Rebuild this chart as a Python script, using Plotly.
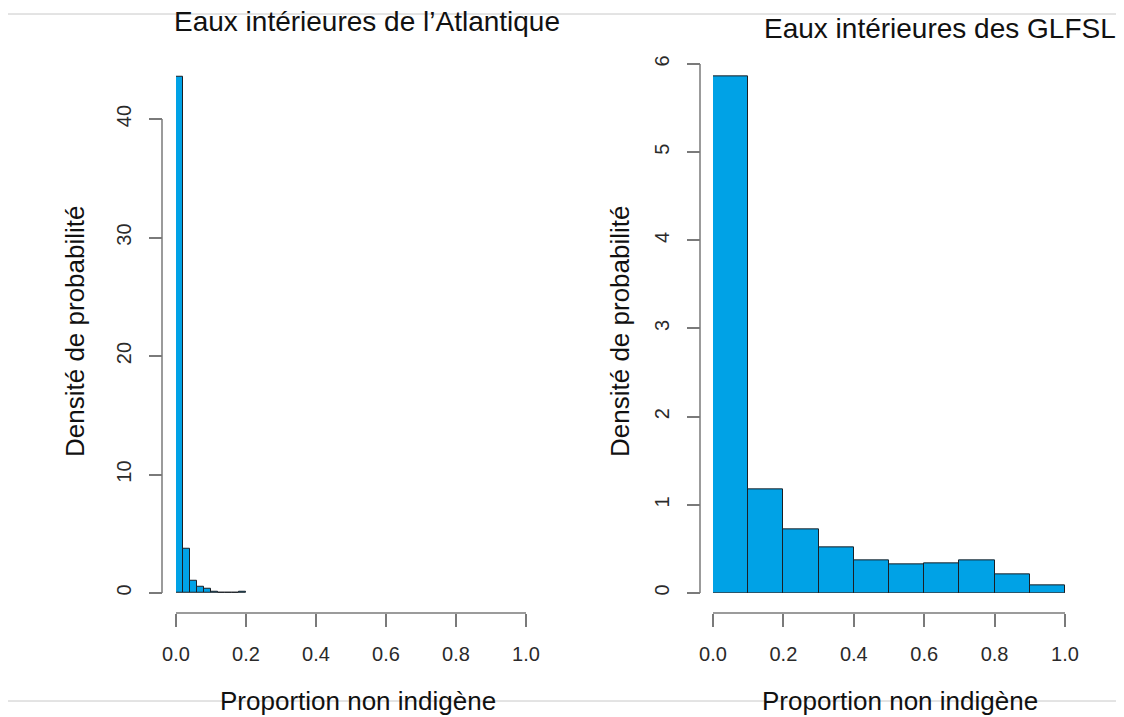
import plotly.graph_objects as go

# ---------------- data ----------------
left_edges = [0.00, 0.02, 0.04, 0.06, 0.08, 0.10, 0.12, 0.14, 0.16, 0.18, 0.20]
left_density = [43.6, 3.75, 1.05, 0.55, 0.35, 0.14, 0.03, 0.03, 0.03, 0.12]

right_edges = [0.0, 0.1, 0.2, 0.3, 0.4, 0.5, 0.6, 0.7, 0.8, 0.9, 1.0]
right_density = [5.86, 1.17, 0.72, 0.52, 0.37, 0.32, 0.34, 0.37, 0.21, 0.09]

x_ticks = [0.0, 0.2, 0.4, 0.6, 0.8, 1.0]
x_ticklabels = ["0.0", "0.2", "0.4", "0.6", "0.8", "1.0"]
left_yticks = [0, 10, 20, 30, 40]
right_yticks = [0, 1, 2, 3, 4, 5, 6]

title_left = "Eaux intérieures de l’Atlantique"
title_right = "Eaux intérieures des GLFSL"
xlabel = "Proportion non indigène"
ylabel = "Densité de probabilité"

# ---------------- layout geometry (screen pixels) ----------------
OFF = 8                      # default page body margin
W, H = 1124 - OFF, 717 - OFF
FONT = "Liberation Sans, Arial, Helvetica, sans-serif"
BAR_FILL = "#00A2E6"
BAR_LINE = "#1b1f24"
AXIS_COL = "#7a7a7a"
TXT_COL = "#2a2a2a"


def px_x(p):
    return (p - OFF) / W


def px_y(p):
    return (H - (p - OFF)) / H


base_px = 593
left_x0, left_x1 = 176, 526
right_x0, right_x1 = 713, 1065
left_top_px = 119     # pixel of y=40
right_top_px = 64     # pixel of y=6
xaxis_px = 613
left_yline_px = 162
right_yline_px = 700

left_ppu = (base_px - left_top_px) / left_yticks[-1]
right_ppu = (base_px - right_top_px) / right_yticks[-1]
left_ymax = 45.0
right_ymax = 6.2

fig = go.Figure()

fig.add_trace(go.Bar(
    x=left_edges[:-1], y=left_density,
    width=[b - a for a, b in zip(left_edges[:-1], left_edges[1:])],
    offset=0,
    marker=dict(color=BAR_FILL, line=dict(color=BAR_LINE, width=1)),
    xaxis="x", yaxis="y", showlegend=False,
))
fig.add_trace(go.Bar(
    x=right_edges[:-1], y=right_density,
    width=[b - a for a, b in zip(right_edges[:-1], right_edges[1:])],
    offset=0,
    marker=dict(color=BAR_FILL, line=dict(color=BAR_LINE, width=1)),
    xaxis="x2", yaxis="y2", showlegend=False,
))

common_x = dict(
    range=[x_ticks[0], x_ticks[-1]], tickvals=x_ticks, ticktext=x_ticklabels,
    ticks="outside", ticklen=13, tickwidth=1.5, tickcolor=AXIS_COL,
    showline=False, showgrid=False, zeroline=False, automargin=False,
    anchor="free", position=px_y(xaxis_px),
    tickfont=dict(family=FONT, size=20, color=TXT_COL),
    ticklabelstandoff=10,
)
common_y = dict(
    ticks="outside", ticklen=13, tickwidth=1.5, tickcolor=AXIS_COL,
    showline=False, showgrid=False, zeroline=False, automargin=False,
    anchor="free", tickangle=-90,
    tickfont=dict(family=FONT, size=20, color=TXT_COL),
    ticklabelstandoff=10,
)

fig.update_layout(
    width=W, height=H,
    margin=dict(l=0, r=0, t=0, b=0, pad=0, autoexpand=False),
    paper_bgcolor="white", plot_bgcolor="white",
    bargap=0,
    xaxis=dict(domain=[px_x(left_x0), px_x(left_x1)], **common_x),
    xaxis2=dict(domain=[px_x(right_x0), px_x(right_x1)], **common_x),
    yaxis=dict(domain=[px_y(base_px), px_y(base_px - left_ymax * left_ppu)],
               range=[0, left_ymax], tickvals=left_yticks,
               position=px_x(left_yline_px), **common_y),
    yaxis2=dict(domain=[px_y(base_px), px_y(base_px - right_ymax * right_ppu)],
                range=[0, right_ymax], tickvals=right_yticks,
                position=px_x(right_yline_px), **common_y),
)

# axis lines spanning first to last tick (R style)
shapes = []
for xref, yref_ticks, yref, ylpx in [("x", left_yticks, "y", left_yline_px),
                                     ("x2", right_yticks, "y2", right_yline_px)]:
    shapes.append(dict(type="line", xref=xref, yref="paper",
                       x0=x_ticks[0], x1=x_ticks[-1],
                       y0=px_y(xaxis_px), y1=px_y(xaxis_px),
                       line=dict(color=AXIS_COL, width=1.5)))
    shapes.append(dict(type="line", xref="paper", yref=yref,
                       x0=px_x(ylpx), x1=px_x(ylpx),
                       y0=yref_ticks[0], y1=yref_ticks[-1],
                       line=dict(color=AXIS_COL, width=1.5)))
# slide separator lines
for ypx in (14, 701):
    shapes.append(dict(type="line", xref="paper", yref="paper",
                       x0=0, x1=1, y0=px_y(ypx), y1=px_y(ypx),
                       line=dict(color="#c8c8c8", width=1), layer="below"))
fig.update_layout(shapes=shapes)

ann = []
ann.append(dict(text=title_left, x=px_x(172), y=px_y(22), xref="paper", yref="paper",
                xanchor="left", yanchor="middle", showarrow=False,
                font=dict(family=FONT, size=28, color="#111")))
ann.append(dict(text=title_right, x=px_x(762), y=px_y(29), xref="paper", yref="paper",
                xanchor="left", yanchor="middle", showarrow=False,
                font=dict(family=FONT, size=28, color="#111")))
for cx in (358, 900):
    ann.append(dict(text=xlabel, x=px_x(cx), y=px_y(701), xref="paper", yref="paper",
                    xanchor="center", yanchor="middle", showarrow=False,
                    font=dict(family=FONT, size=26, color="#111")))
for cx in (75, 620):
    ann.append(dict(text=ylabel, x=px_x(cx), y=px_y(331), xref="paper", yref="paper",
                    xanchor="center", yanchor="middle", showarrow=False, textangle=-90,
                    font=dict(family=FONT, size=26, color="#111")))
fig.update_layout(annotations=ann)

fig.write_html("out.html")
